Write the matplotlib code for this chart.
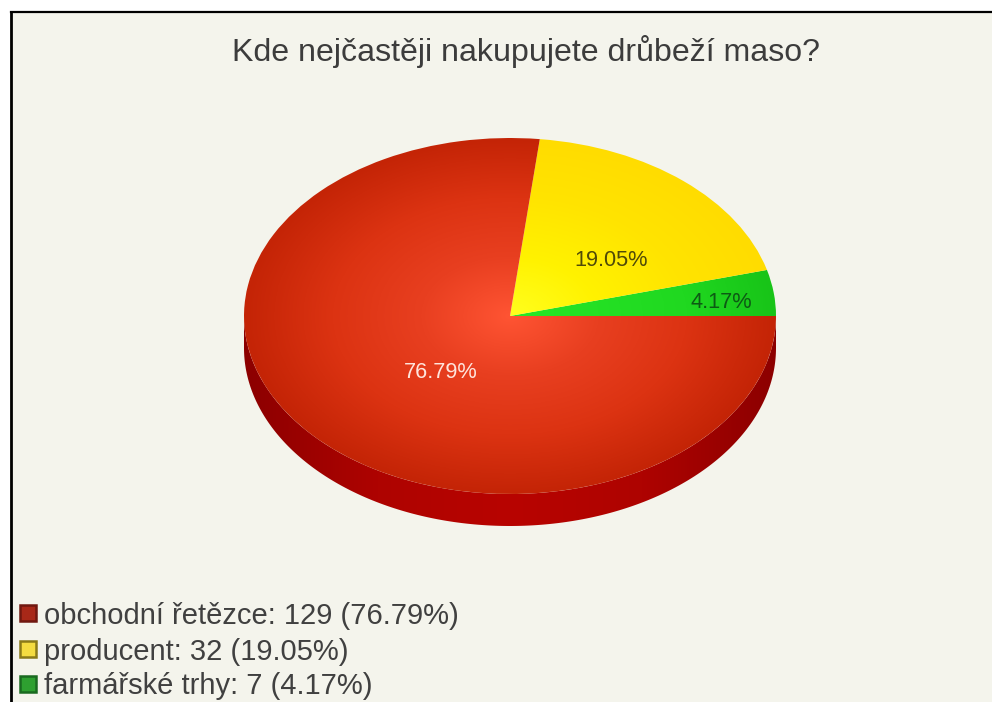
import numpy as np
import matplotlib
matplotlib.use("Agg")
import matplotlib.pyplot as plt
from matplotlib.colors import LinearSegmentedColormap
from matplotlib.patches import Rectangle

plt.rcParams["font.family"] = ["Liberation Sans", "DejaVu Sans"]

title = "Kde nejčastěji nakupujete drůbeží maso?"
categories = ["obchodní řetězce", "producent", "farmářské trhy"]
counts = [129, 32, 7]
percents = [76.79, 19.05, 4.17]

# Slices are laid out counter-clockwise from east, smallest first.
draw_order = [2, 1, 0]

W, H = 992, 702
PAPER = "#f4f4ec"
CX, CY, RX, RY, DEPTH = 510, 316, 266, 178, 32

face_ramps = {
    0: ["#ff5433", "#e83f20", "#dc3312", "#c42406"],
    1: ["#ffff1e", "#fff200", "#ffe400", "#ffdc00"],
    2: ["#26e626", "#24e024", "#20d820", "#18c418"],
}
label_colors = {0: "#ffe4dc", 1: "#4f4a08", 2: "#0d5a14"}
label_xy = {0: (441, 372), 1: (611, 260), 2: (721, 302)}
swatch_fill = {0: "#a82818", 1: "#f4dc40", 2: "#2ea030"}
swatch_edge = {0: "#701810", 1: "#8a7a18", 2: "#1a6a20"}
legend_y = [616, 652, 686]
swatch_y = [612.5, 649, 684]

fig = plt.figure(figsize=(W / 100, H / 100), dpi=100, facecolor="white")

# Page layer in pixel coordinates: panel, frame, title and legend.
page = fig.add_axes([0, 0, 1, 1])
page.set_xlim(0, W)
page.set_ylim(H, 0)
page.axis("off")
page.add_patch(Rectangle((10, 12), W, H, facecolor=PAPER, edgecolor="none"))
page.plot([10.5, 10.5], [H, 12], color="black", lw=2.0, solid_capstyle="projecting")
page.plot([10.5, W], [12, 12], color="black", lw=1.6, solid_capstyle="projecting")
page.text(526, 52, title, ha="center", va="center", fontsize=23.1, color="#3c3c3c")

# Pie layer: unit circle stretched onto the tilted ellipse, with room below for the rim.
dy = DEPTH / RY
pie_ax = fig.add_axes([(CX - RX) / W, 1 - (CY + RY + DEPTH) / H,
                       2 * RX / W, (2 * RY + DEPTH) / H])
wedges, _ = pie_ax.pie(
    [counts[i] for i in draw_order],
    startangle=0,
    counterclock=True,
    radius=1,
    center=(0, 0),
    wedgeprops={"linewidth": 0},
)
pie_ax.set_aspect("auto")
pie_ax.axis("off")

# Rim below the front half of the ellipse, shaded left to right.
theta = np.linspace(np.pi, 2 * np.pi, 200)
rim_poly = pie_ax.fill_between(np.cos(theta), np.sin(theta) - dy, np.sin(theta),
                               color="none", lw=0)
rim_cmap = LinearSegmentedColormap.from_list(
    "rim", ["#8c0000", "#ae0300", "#b80400", "#ae0300", "#8c0000"]
)
rim_img = pie_ax.imshow(
    np.linspace(0, 1, 256)[None, :],
    cmap=rim_cmap,
    extent=(-1, 1, -1 - dy, 1),
    aspect="auto",
    zorder=0.5,
)
rim_img.set_clip_path(rim_poly.get_paths()[0], transform=pie_ax.transData)

# Radial shading for each slice, clipped to the wedge outline.
grid = np.linspace(-1, 1, 600)
xx, yy = np.meshgrid(grid, grid)
rr = np.clip(np.hypot(xx, yy), 0, 1)
for wedge, idx in zip(wedges, draw_order):
    cmap = LinearSegmentedColormap.from_list(f"face{idx}", face_ramps[idx])
    wedge.set_facecolor("none")
    img = pie_ax.imshow(
        rr, cmap=cmap, vmin=0, vmax=1, extent=(-1, 1, -1, 1),
        origin="lower", aspect="auto", zorder=1,
    )
    img.set_clip_path(wedge)
pie_ax.set_xlim(-1, 1)
pie_ax.set_ylim(-1 - dy, 1)

# Percentage labels on the slices and the legend rows.
for idx in range(3):
    x, y = label_xy[idx]
    fig.text(x / W, 1 - y / H, f"{percents[idx]:.2f}%", ha="center", va="center",
             fontsize=15.7, color=label_colors[idx], zorder=5)
    page.add_patch(Rectangle((20, swatch_y[idx] - 8), 16, 16, facecolor=swatch_fill[idx],
                             edgecolor=swatch_edge[idx], lw=1.8))
    page.text(44, legend_y[idx], f"{categories[idx]}: {counts[idx]} ({percents[idx]:.2f}%)",
              ha="left", va="center", fontsize=21, color="#404040")

fig.savefig("out.png", dpi=100, facecolor=fig.get_facecolor())
